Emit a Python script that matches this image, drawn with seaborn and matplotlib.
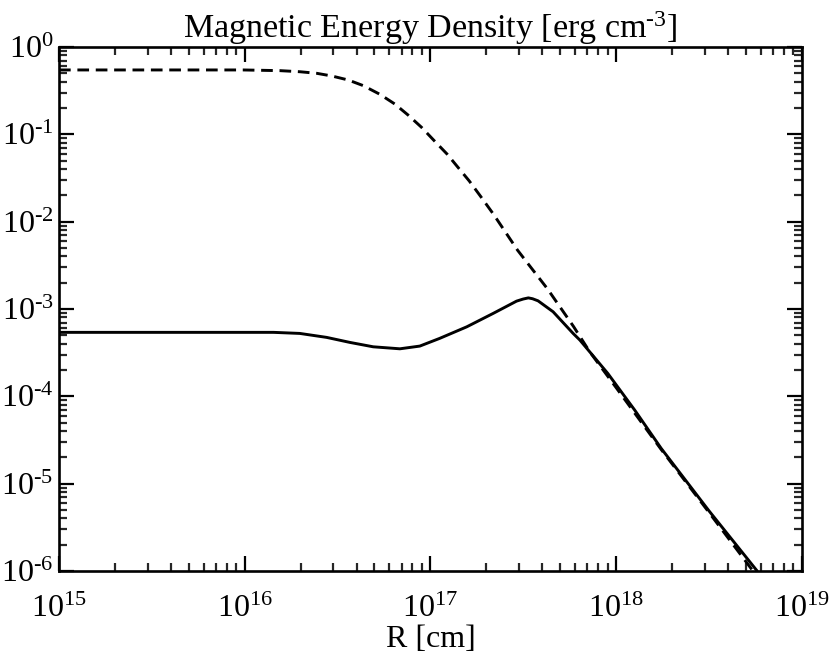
import numpy as np
import pandas as pd
import matplotlib
matplotlib.use("Agg")
import matplotlib.pyplot as plt
import matplotlib.ticker as mticker
import seaborn as sns

# values (R in cm, energy density in erg cm^-3)
r_dashed = [1.0e15, 6.24e15, 9.8e15, 1.55e16, 1.98e16, 2.44e16, 2.94e16, 3.61e16, 4.35e16,
            5.35e16, 6.44e16, 7.59e16, 8.97e16, 1.04e17, 1.23e17, 1.41e17, 1.62e17,
            1.86e17, 2.19e17, 2.95e17, 4.27e17, 5.9e17, 7.2e17, 1.0e18, 1.74e18,
            3.16e18, 5.6e18]
u_dashed = [0.546, 0.546, 0.546, 0.536, 0.521, 0.500, 0.466, 0.419, 0.361,
            0.287, 0.222, 0.166, 0.120, 0.0861, 0.0594, 0.0417, 0.0292,
            0.0196, 0.0121, 4.7e-3, 1.7e-3, 6.3e-4, 3.25e-4, 1.26e-4, 2.5e-5,
            4.7e-6, 9.3e-7]

r_solid = [1.0e15, 9.4e15, 1.43e16, 1.98e16, 2.76e16, 3.69e16, 4.92e16, 6.85e16, 8.77e16,
           1.12e17, 1.57e17, 2.18e17, 2.91e17, 3.16e17, 3.37e17, 3.55e17, 3.8e17,
           4.58e17, 5.87e17, 6.38e17, 9.02e17, 1.26e18, 1.75e18, 3.16e18, 5.75e18]
u_solid = [5.4e-4, 5.4e-4, 5.4e-4, 5.25e-4, 4.73e-4, 4.14e-4, 3.69e-4, 3.5e-4, 3.76e-4,
           4.6e-4, 6.25e-4, 8.91e-4, 1.23e-3, 1.30e-3, 1.34e-3, 1.31e-3, 1.24e-3,
           9.29e-4, 5.25e-4, 4.41e-4, 1.83e-4, 6.95e-5, 2.53e-5, 4.9e-6, 1.0e-6]

x_lim = (1e15, 1e19)
y_lim = (1e-6, 1e0)
HY = "\u2010"  # short hyphen used in the exponents

sns.set_theme(style="ticks")
plt.rcParams.update({
    "font.family": ["Liberation Serif", "DejaVu Serif"],
    "mathtext.fontset": "custom",
    "mathtext.rm": "Liberation Serif",
    "mathtext.it": "Liberation Serif:italic",
    "axes.linewidth": 1.9,
    "xtick.direction": "in",
    "ytick.direction": "in",
    "xtick.top": True,
    "ytick.right": True,
    "xtick.major.size": 11,
    "xtick.minor.size": 6,
    "ytick.major.size": 11,
    "ytick.minor.size": 6,
    "xtick.major.width": 1.6,
    "xtick.minor.width": 1.6,
    "ytick.major.width": 1.6,
    "ytick.minor.width": 1.6,
})

df_d = pd.DataFrame({"R": r_dashed, "U": u_dashed})
df_s = pd.DataFrame({"R": r_solid, "U": u_solid})

fig = plt.figure(figsize=(8.3, 6.62), dpi=100)
ax = fig.add_axes([0.0711, 0.1375, 0.8949, 0.7915])

sns.lineplot(data=df_d, x="R", y="U", ax=ax, color="black", linewidth=2.1,
             linestyle=(0, (4, 2.3)), sort=False)
sns.lineplot(data=df_s, x="R", y="U", ax=ax, color="black", linewidth=2.1, sort=False)

ax.set_xscale("log")
ax.set_yscale("log")
ax.set_xlim(*x_lim)
ax.set_ylim(*y_lim)


def pow_label(v, pos):
    e = int(round(np.log10(v)))
    s = str(e).replace("-", HY)
    return r"$\mathregular{10^{%s}}$" % s


ax.xaxis.set_major_locator(mticker.LogLocator(base=10, numticks=10))
ax.yaxis.set_major_locator(mticker.LogLocator(base=10, numticks=10))
ax.xaxis.set_minor_locator(mticker.LogLocator(base=10, subs=np.arange(2, 10), numticks=20))
ax.yaxis.set_minor_locator(mticker.LogLocator(base=10, subs=np.arange(2, 10), numticks=20))
ax.xaxis.set_minor_formatter(mticker.NullFormatter())
ax.yaxis.set_minor_formatter(mticker.NullFormatter())
ax.xaxis.set_major_formatter(mticker.FuncFormatter(pow_label))
ax.yaxis.set_major_formatter(mticker.FuncFormatter(pow_label))
ax.tick_params(axis="x", which="major", labelsize=23, pad=17, colors="black")
ax.tick_params(axis="y", which="major", labelsize=23, pad=4, colors="black")

ax.set_xlabel("R [cm]", fontsize=23, color="black", labelpad=1)
ax.set_ylabel("")
ax.set_title(r"Magnetic Energy Density [erg cm$^{\mathregular{%s3}}$]" % HY,
             fontsize=24.5, color="black", pad=4)
for s in ax.spines.values():
    s.set_color("black")

fig.savefig("out.png", dpi=100)
